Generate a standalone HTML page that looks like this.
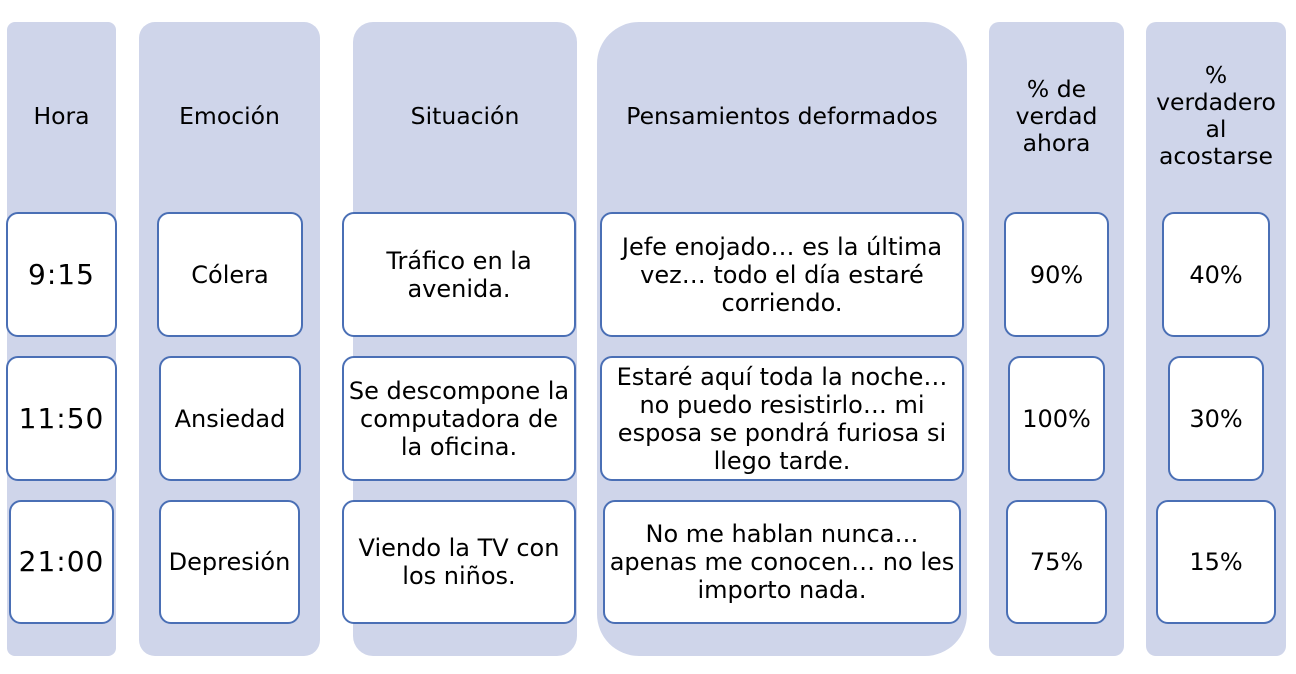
<!DOCTYPE html>
<html><head><meta charset="utf-8"><style>
body{margin:0;width:1296px;height:674px;background:#fff;position:relative;overflow:hidden;font-family:"DejaVu Sans","Liberation Sans",sans-serif;color:#000}
.c{position:absolute;background:#cfd5ea;top:22px;height:634px}
.h{position:absolute;display:flex;align-items:center;justify-content:center;text-align:center;font-size:23.5px;line-height:27px}
.b{position:absolute;background:#fff;border:2px solid #4a6fb5;border-radius:12px;box-sizing:border-box;display:flex;align-items:center;justify-content:center;text-align:center;font-size:24px;line-height:28px}
.t{font-size:28px;letter-spacing:1px}
</style></head><body>
<div class="c" style="left:7px;width:109px;border-radius:8px"></div>
<div class="c" style="left:139px;width:181px;border-radius:16px"></div>
<div class="c" style="left:353px;width:224px;border-radius:20px"></div>
<div class="c" style="left:597px;width:370px;border-radius:42px"></div>
<div class="c" style="left:989px;width:135px;border-radius:10px"></div>
<div class="c" style="left:1146px;width:140px;border-radius:10px"></div>

<div class="h" style="left:7px;width:109px;top:100px;height:32px">Hora</div>
<div class="h" style="left:139px;width:181px;top:100px;height:32px">Emoción</div>
<div class="h" style="left:353px;width:224px;top:100px;height:32px">Situación</div>
<div class="h" style="left:597px;width:370px;top:100px;height:32px">Pensamientos deformados</div>
<div class="h" style="left:989px;width:135px;top:74px;height:84px">% de<br>verdad<br>ahora</div>
<div class="h" style="left:1146px;width:140px;top:60px;height:112px">%<br>verdadero<br>al<br>acostarse</div>

<div class="b t" style="left:6px;top:212px;width:111px;height:125px">9:15</div>
<div class="b" style="left:157px;top:212px;width:146px;height:125px">Cólera</div>
<div class="b" style="left:342px;top:212px;width:234px;height:125px">Tráfico en la<br>avenida.</div>
<div class="b" style="left:600px;top:212px;width:364px;height:125px">Jefe enojado… es la última<br>vez… todo el día estaré<br>corriendo.</div>
<div class="b" style="left:1004px;top:212px;width:105px;height:125px">90%</div>
<div class="b" style="left:1162px;top:212px;width:108px;height:125px">40%</div>

<div class="b t" style="left:6px;top:356px;width:111px;height:125px">11:50</div>
<div class="b" style="left:159px;top:356px;width:142px;height:125px">Ansiedad</div>
<div class="b" style="left:342px;top:356px;width:234px;height:125px">Se descompone la<br>computadora de<br>la oficina.</div>
<div class="b" style="left:600px;top:356px;width:364px;height:125px">Estaré aquí toda la noche…<br>no puedo resistirlo… mi<br>esposa se pondrá furiosa si<br>llego tarde.</div>
<div class="b" style="left:1008px;top:356px;width:97px;height:125px">100%</div>
<div class="b" style="left:1168px;top:356px;width:96px;height:125px">30%</div>

<div class="b t" style="left:9px;top:500px;width:105px;height:124px">21:00</div>
<div class="b" style="left:159px;top:500px;width:141px;height:124px">Depresión</div>
<div class="b" style="left:342px;top:500px;width:234px;height:124px">Viendo la TV con<br>los niños.</div>
<div class="b" style="left:603px;top:500px;width:358px;height:124px">No me hablan nunca…<br>apenas me conocen… no les<br>importo nada.</div>
<div class="b" style="left:1006px;top:500px;width:101px;height:124px">75%</div>
<div class="b" style="left:1156px;top:500px;width:120px;height:124px">15%</div>
</body></html>
